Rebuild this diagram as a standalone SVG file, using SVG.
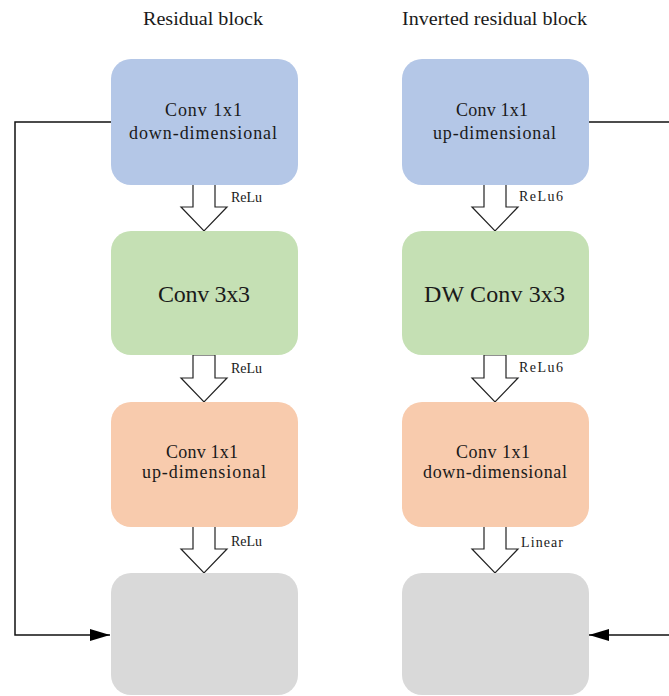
<svg xmlns="http://www.w3.org/2000/svg" width="669" height="696" viewBox="0 0 669 696">
<style>
text{font-family:"Liberation Serif","Times New Roman",serif;fill:#1a1a1a}
.title{font-size:19px;text-anchor:middle}
.lbl{font-size:18px;text-anchor:middle}
.big{font-size:24px;text-anchor:middle}
.act{font-size:14px}
.blue{fill:#b4c7e7}
.green{fill:#c5e0b4}
.orange{fill:#f8cbad}
.gray{fill:#d9d9d9}
.blk{fill:#fff;stroke:#222;stroke-width:1.2}
.wire{fill:none;stroke:#111;stroke-width:1.5}
</style>
<defs>
<marker id="ah" markerWidth="20" markerHeight="12" refX="20" refY="6" orient="auto" markerUnits="userSpaceOnUse">
<path d="M0,0 L20,6 L0,12 Z" fill="#000"/>
</marker>
</defs>
<rect width="669" height="696" fill="#fff"/>
<text class="title" x="203" y="25" textLength="120" lengthAdjust="spacingAndGlyphs">Residual block</text>
<text class="title" x="494.5" y="25" textLength="185" lengthAdjust="spacingAndGlyphs">Inverted residual block</text>

<g id="connectors">
<path class="wire" d="M111,122 H15 V635 H110" marker-end="url(#ah)"/>
<path class="wire" d="M589,122 H669"/>
<path class="wire" d="M669,635 H589" marker-end="url(#ah)"/>
<path class="blk" d="M193,184 H215 V207 H227 L204,231 L181,207 H193 Z"/>
<text class="act" x="231" y="202" textLength="31">ReLu</text>
<path class="blk" d="M193,355 H215 V378 H227 L204,402 L181,378 H193 Z"/>
<text class="act" x="231" y="373" textLength="31">ReLu</text>
<path class="blk" d="M193,526 H215 V549 H227 L204,573 L181,549 H193 Z"/>
<text class="act" x="231" y="546" textLength="31">ReLu</text>
<path class="blk" d="M484,184 H506 V207 H518 L495,231 L472,207 H484 Z"/>
<text class="act" x="519" y="201" textLength="44">ReLu6</text>
<path class="blk" d="M484,355 H506 V378 H518 L495,402 L472,378 H484 Z"/>
<text class="act" x="519" y="372" textLength="44">ReLu6</text>
<path class="blk" d="M484,526 H506 V549 H518 L495,573 L472,549 H484 Z"/>
<text class="act" x="521" y="547" textLength="42">Linear</text>
</g>

<g id="res-conv1">
<rect class="blue" x="111" y="59" width="187" height="126" rx="20"/>
<text class="lbl" x="203.5" y="116" textLength="77">Conv 1x1</text>
<text class="lbl" x="203" y="139" textLength="148">down-dimensional</text>
</g>
<g id="res-conv3">
<rect class="green" x="111" y="231" width="187" height="124" rx="20"/>
<text class="big" x="204" y="302" textLength="92">Conv 3x3</text>
</g>
<g id="res-conv1b">
<rect class="orange" x="111" y="402" width="187" height="125" rx="20"/>
<text class="lbl" x="202" y="458" textLength="72">Conv 1x1</text>
<text class="lbl" x="204" y="478" textLength="124">up-dimensional</text>
</g>
<g id="res-out">
<rect class="gray" x="111" y="573" width="187" height="122" rx="20"/>
</g>

<g id="inv-conv1">
<rect class="blue" x="402" y="59" width="187" height="126" rx="20"/>
<text class="lbl" x="492" y="116" textLength="72">Conv 1x1</text>
<text class="lbl" x="494.5" y="139" textLength="123">up-dimensional</text>
</g>
<g id="inv-dwconv">
<rect class="green" x="402" y="231" width="187" height="124" rx="20"/>
<text class="big" x="494.5" y="302" textLength="141">DW Conv 3x3</text>
</g>
<g id="inv-conv1b">
<rect class="orange" x="402" y="402" width="187" height="125" rx="20"/>
<text class="lbl" x="493" y="458" textLength="74">Conv 1x1</text>
<text class="lbl" x="495" y="478" textLength="144">down-dimensional</text>
</g>
<g id="inv-out">
<rect class="gray" x="402" y="573" width="187" height="122" rx="20"/>
</g>
</svg>
